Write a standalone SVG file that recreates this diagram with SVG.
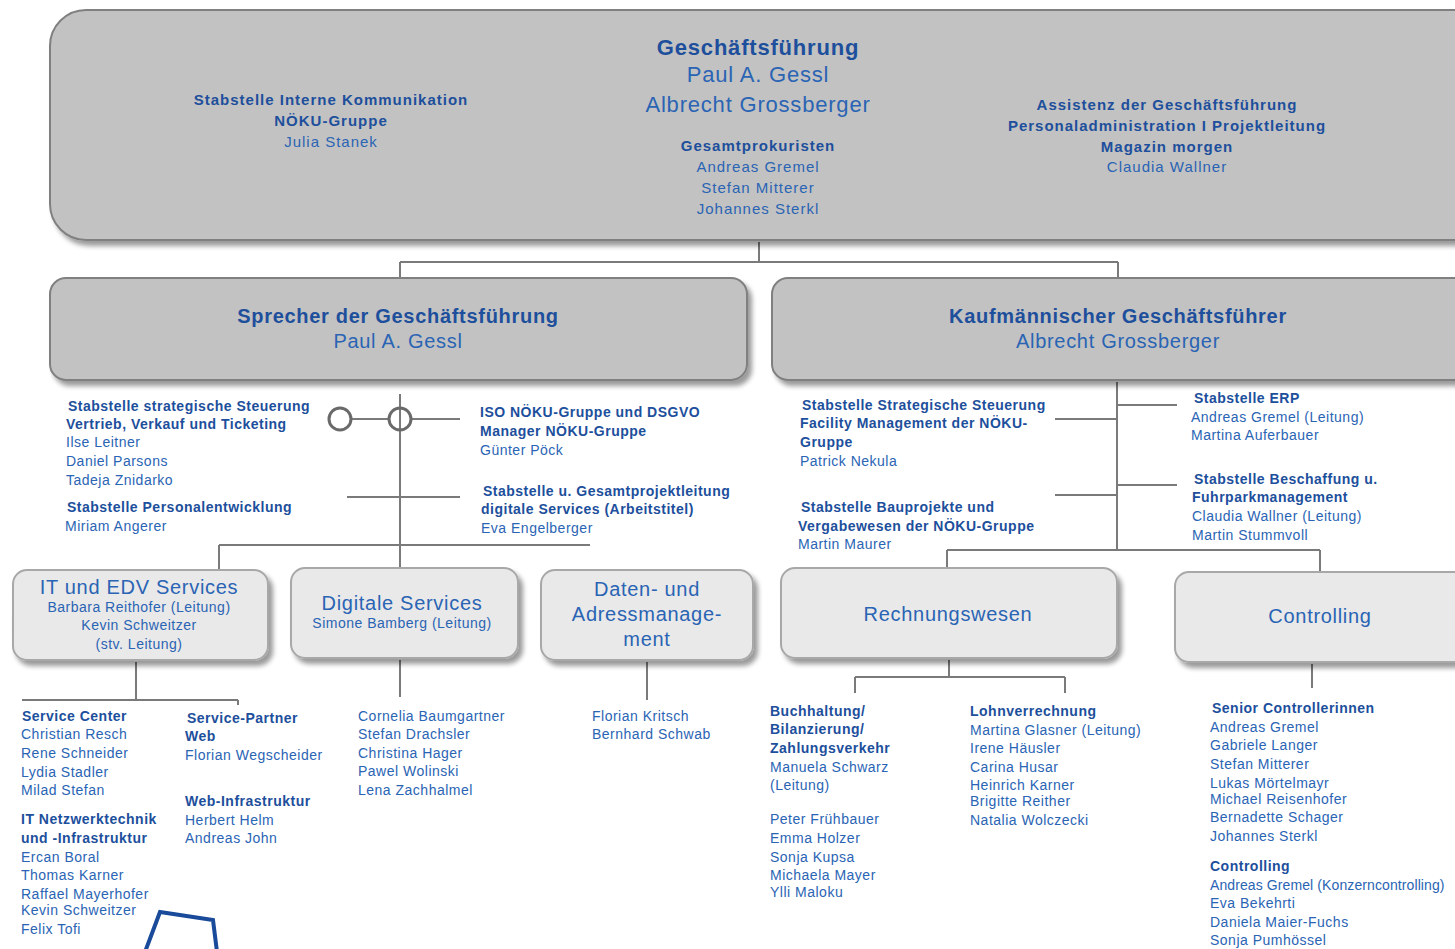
<svg xmlns="http://www.w3.org/2000/svg" width="1455" height="949" viewBox="0 0 1455 949">
<defs>
<filter id="sh" x="-5%" y="-5%" width="115%" height="125%">
<feGaussianBlur in="SourceAlpha" stdDeviation="2.5"/>
<feOffset dx="4" dy="5" result="b"/>
<feComponentTransfer><feFuncA type="linear" slope="0.4"/></feComponentTransfer>
<feMerge><feMergeNode/><feMergeNode in="SourceGraphic"/></feMerge>
</filter>
<style>
text{font-family:"Liberation Sans",Arial,sans-serif;fill:#2a64b4}
.b{font-weight:bold;fill:#1d4f9c}
.t{font-size:15px;letter-spacing:1px}
.big{font-size:22px;letter-spacing:0.8px}
.mid{font-size:20px;letter-spacing:0.7px}
.s{font-size:14px;letter-spacing:0.5px}
.c{text-anchor:middle}
.dark{fill:#c2c2c2;stroke:#808080;stroke-width:2}
.light{fill:#e9e9e9;stroke:#a8a8a8;stroke-width:2}
.ln{stroke:#7a7a7a;stroke-width:2;fill:none}
</style>
</defs>
<rect width="1455" height="949" fill="#ffffff"/>

<g id="connectors" class="ln">
<path d="M759 242V262M400 262H1118M400 262V278M1118 262V278"/>
<path d="M400 394V545M351 419H389M411 419H460M347 497H460M219 545H590M219 545V570M400 545V568"/>
<circle cx="340" cy="419" r="11" stroke-width="3" stroke="#6a6a6a"/>
<circle cx="400" cy="419" r="11" stroke-width="3" stroke="#6a6a6a"/>
<path d="M1117 382V550M1055 419H1117M1117 405H1177M1055 495H1117M1117 485H1177M947 550H1320M947 550V568M1320 550V572"/>
<path d="M136 662V700M22 700H238M238 700V705M400 660V697M647 662V700"/>
<path d="M949 660V677M855 677H1065M855 677V693M1065 677V693M1312 664V688"/>
</g>

<g id="geschaeftsfuehrung">
<rect class="dark" x="50" y="10" width="1440" height="230" rx="36" filter="url(#sh)"/>
<text class="b big c" x="758" y="55">Geschäftsführung</text>
<text class="big c" x="758" y="82">Paul A. Gessl</text>
<text class="big c" x="758" y="112">Albrecht Grossberger</text>
<text class="b t c" x="758" y="151">Gesamtprokuristen</text>
<text class="t c" x="758" y="172">Andreas Gremel</text>
<text class="t c" x="758" y="193">Stefan Mitterer</text>
<text class="t c" x="758" y="214">Johannes Sterkl</text>
<text class="b t c" x="331" y="105">Stabstelle Interne Kommunikation</text>
<text class="b t c" x="331" y="126">NÖKU-Gruppe</text>
<text class="t c" x="331" y="147">Julia Stanek</text>
<text class="b t c" x="1167" y="110">Assistenz der Geschäftsführung</text>
<text class="b t c" x="1167" y="131">Personaladministration I Projektleitung</text>
<text class="b t c" x="1167" y="152">Magazin morgen</text>
<text class="t c" x="1167" y="172">Claudia Wallner</text>
</g>

<g id="sprecher">
<rect class="dark" x="50" y="278" width="697" height="102" rx="16" filter="url(#sh)"/>
<text class="b mid c" x="398" y="323">Sprecher der Geschäftsführung</text>
<text class="mid c" x="398" y="348">Paul A. Gessl</text>
</g>

<g id="kaufmaennisch">
<rect class="dark" x="772" y="278" width="720" height="102" rx="16" filter="url(#sh)"/>
<text class="b mid c" x="1118" y="323">Kaufmännischer Geschäftsführer</text>
<text class="mid c" x="1118" y="348">Albrecht Grossberger</text>
</g>

<g id="stab-strategisch-vertrieb">
<text class="b s" x="68" y="411">Stabstelle strategische  Steuerung</text>
<text class="b s" x="66" y="429">Vertrieb, Verkauf und Ticketing</text>
<text class="s" x="66" y="447">Ilse Leitner</text>
<text class="s" x="66" y="466">Daniel Parsons</text>
<text class="s" x="66" y="485">Tadeja Znidarko</text>
</g>
<g id="stab-personal">
<text class="b s" x="67" y="512">Stabstelle  Personalentwicklung</text>
<text class="s" x="65" y="531">Miriam Angerer</text>
</g>
<g id="iso">
<text class="b s" x="480" y="417">ISO NÖKU-Gruppe und DSGVO</text>
<text class="b s" x="480" y="436">Manager NÖKU-Gruppe</text>
<text class="s" x="480" y="455">Günter Pöck</text>
</g>
<g id="stab-digital">
<text class="b s" x="483" y="496">Stabstelle u. Gesamtprojektleitung</text>
<text class="b s" x="481" y="514">digitale  Services (Arbeitstitel)</text>
<text class="s" x="481" y="533">Eva Engelberger</text>
</g>

<g id="stab-facility">
<text class="b s" x="802" y="410">Stabstelle  Strategische  Steuerung</text>
<text class="b s" x="800" y="428">Facility Management der NÖKU-</text>
<text class="b s" x="800" y="447">Gruppe</text>
<text class="s" x="800" y="466">Patrick Nekula</text>
</g>
<g id="stab-bau">
<text class="b s" x="801" y="512">Stabstelle Bauprojekte und</text>
<text class="b s" x="798" y="531">Vergabewesen der NÖKU-Gruppe</text>
<text class="s" x="798" y="549">Martin Maurer</text>
</g>
<g id="stab-erp">
<text class="b s" x="1194" y="403">Stabstelle ERP</text>
<text class="s" x="1191" y="422">Andreas Gremel (Leitung)</text>
<text class="s" x="1191" y="440">Martina Auferbauer</text>
</g>
<g id="stab-beschaffung">
<text class="b s" x="1194" y="484">Stabstelle Beschaffung u.</text>
<text class="b s" x="1192" y="502">Fuhrparkmanagement</text>
<text class="s" x="1192" y="521">Claudia Wallner (Leitung)</text>
<text class="s" x="1192" y="540">Martin Stummvoll</text>
</g>

<g id="it-edv">
<rect class="light" x="13" y="570" width="255" height="90" rx="14" filter="url(#sh)"/>
<text class="mid c" x="139" y="594">IT und EDV Services</text>
<text class="s c" x="139" y="612">Barbara Reithofer (Leitung)</text>
<text class="s c" x="139" y="630">Kevin Schweitzer</text>
<text class="s c" x="139" y="649">(stv. Leitung)</text>
</g>
<g id="digitale-services">
<rect class="light" x="291" y="568" width="227" height="90" rx="14" filter="url(#sh)"/>
<text class="mid c" x="402" y="610">Digitale Services</text>
<text class="s c" x="402" y="628">Simone Bamberg (Leitung)</text>
</g>
<g id="daten">
<rect class="light" x="541" y="570" width="212" height="90" rx="14" filter="url(#sh)"/>
<text class="mid c" x="647" y="596">Daten- und</text>
<text class="mid c" x="647" y="621">Adressmanage-</text>
<text class="mid c" x="647" y="646">ment</text>
</g>
<g id="rechnungswesen">
<rect class="light" x="781" y="568" width="336" height="90" rx="14" filter="url(#sh)"/>
<text class="mid c" x="948" y="621">Rechnungswesen</text>
</g>
<g id="controlling">
<rect class="light" x="1175" y="572" width="320" height="90" rx="14" filter="url(#sh)"/>
<text class="mid c" x="1320" y="623">Controlling</text>
</g>

<g id="service-center">
<text class="b s" x="22" y="721">Service Center</text>
<text class="s" x="21" y="739">Christian Resch</text>
<text class="s" x="21" y="758">Rene Schneider</text>
<text class="s" x="21" y="777">Lydia Stadler</text>
<text class="s" x="21" y="795">Milad Stefan</text>
</g>
<g id="it-netzwerk">
<text class="b s" x="21" y="824">IT Netzwerktechnik</text>
<text class="b s" x="21" y="843">und -Infrastruktur</text>
<text class="s" x="21" y="862">Ercan Boral</text>
<text class="s" x="21" y="880">Thomas Karner</text>
<text class="s" x="21" y="899">Raffael Mayerhofer</text>
<text class="s" x="21" y="915">Kevin Schweitzer</text>
<text class="s" x="21" y="934">Felix Tofi</text>
</g>
<g id="service-partner">
<text class="b s" x="187" y="723">Service-Partner</text>
<text class="b s" x="185" y="741">Web</text>
<text class="s" x="185" y="760">Florian Wegscheider</text>
</g>
<g id="web-infra">
<text class="b s" x="185" y="806">Web-Infrastruktur</text>
<text class="s" x="185" y="825">Herbert Helm</text>
<text class="s" x="185" y="843">Andreas John</text>
</g>
<g id="digitale-team">
<text class="s" x="358" y="721">Cornelia Baumgartner</text>
<text class="s" x="358" y="739">Stefan Drachsler</text>
<text class="s" x="358" y="758">Christina Hager</text>
<text class="s" x="358" y="776">Pawel Wolinski</text>
<text class="s" x="358" y="795">Lena Zachhalmel</text>
</g>
<g id="daten-team">
<text class="s" x="592" y="721">Florian Kritsch</text>
<text class="s" x="592" y="739">Bernhard Schwab</text>
</g>
<g id="buchhaltung">
<text class="b s" x="770" y="716">Buchhaltung/</text>
<text class="b s" x="770" y="734">Bilanzierung/</text>
<text class="b s" x="770" y="753">Zahlungsverkehr</text>
<text class="s" x="770" y="772">Manuela Schwarz</text>
<text class="s" x="770" y="790">(Leitung)</text>
<text class="s" x="770" y="824">Peter Frühbauer</text>
<text class="s" x="770" y="843">Emma Holzer</text>
<text class="s" x="770" y="862">Sonja Kupsa</text>
<text class="s" x="770" y="880">Michaela Mayer</text>
<text class="s" x="770" y="897">Ylli Maloku</text>
</g>
<g id="lohnverrechnung">
<text class="b s" x="970" y="716">Lohnverrechnung</text>
<text class="s" x="970" y="735">Martina Glasner (Leitung)</text>
<text class="s" x="970" y="753">Irene Häusler</text>
<text class="s" x="970" y="772">Carina Husar</text>
<text class="s" x="970" y="790">Heinrich Karner</text>
<text class="s" x="970" y="806">Brigitte Reither</text>
<text class="s" x="970" y="825">Natalia Wolczecki</text>
</g>
<g id="senior-controlling">
<text class="b s" x="1212" y="713">Senior Controllerinnen</text>
<text class="s" x="1210" y="732">Andreas Gremel</text>
<text class="s" x="1210" y="750">Gabriele Langer</text>
<text class="s" x="1210" y="769">Stefan Mitterer</text>
<text class="s" x="1210" y="788">Lukas Mörtelmayr</text>
<text class="s" x="1210" y="804">Michael Reisenhofer</text>
<text class="s" x="1210" y="822">Bernadette Schager</text>
<text class="s" x="1210" y="841">Johannes Sterkl</text>
</g>
<g id="controlling-team">
<text class="b s" x="1210" y="871">Controlling</text>
<text class="s" x="1210" y="890" style="letter-spacing:0.1px">Andreas Gremel (Konzerncontrolling)</text>
<text class="s" x="1210" y="908">Eva Bekehrti</text>
<text class="s" x="1210" y="927">Daniela Maier-Fuchs</text>
<text class="s" x="1210" y="945">Sonja Pumhössel</text>
</g>

<polyline points="145,952 160,912 213,920 217,952" fill="none" stroke="#1a4a9a" stroke-width="4"/>
</svg>
